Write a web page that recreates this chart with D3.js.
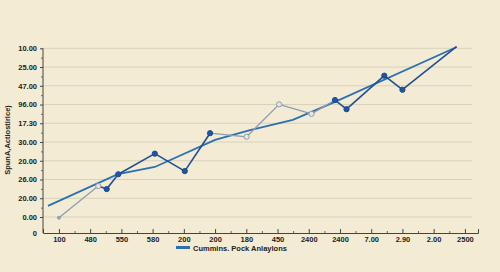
<!DOCTYPE html>
<html lang="en">
<head>
  <meta charset="utf-8">
  <script src="https://d3js.org/d3.v7.min.js"></script>
  <style>
    body { margin: 0; background: #f3ebd4; }
    svg text { font-family: "Liberation Sans", Arial, sans-serif; font-weight: bold; fill: #222; }
  </style>
</head>
<body>
<div id="chart"></div>
<script>

// tick labels
var xLabels = ["100", "480", "550", "580", "200", "200", "180", "450", "2400", "2400", "7.00", "2.90", "2.00", "2500"]
var yLabels = ["0.00", "20.00", "26.00", "20.00", "30.00", "17.30", "96.00", "47.00", "25.00", "10.00"]

// trend line (x = category position, y = grid units)
var trendX = [-0.35, 1.89, 3.07, 5.0, 6.12, 7.49, 8.84, 12.74]
var trendY = [0.59, 2.29, 2.67, 4.11, 4.64, 5.18, 6.14, 9.07]

// measured series, points in order
var pointX = [0.0, 1.26, 1.53, 1.90, 3.07, 4.03, 4.84, 6.01, 7.05, 8.09, 8.84, 9.21, 10.42, 11.0, 12.73]
var pointY = [-0.04, 1.65, 1.49, 2.28, 3.38, 2.45, 4.47, 4.28, 6.01, 5.50, 6.24, 5.75, 7.54, 6.79, 9.09]
// estimated (light) points
var estimated = [1, 1, 0, 0, 0, 0, 0, 1, 1, 1, 0, 0, 0, 0, 0]
// light segments (index of the segment's first point)
var lightSegments = [0, 6, 7, 8, 9]

var W = 500, H = 272
var svg = d3.select("#chart").append("svg")
  .attr("width", W).attr("height", H)

var x = d3.scaleLinear().domain([-0.51, 13.42]).range([43, 478])
var y = d3.scaleLinear().domain([0, 9]).range([217, 48.3])
var yBottom = 233

// grid lines
svg.append("g").selectAll("line")
  .data(d3.range(yLabels.length))
  .enter().append("line")
    .attr("x1", 43).attr("x2", 472)
    .attr("y1", function(d) { return y(d) }).attr("y2", function(d) { return y(d) })
    .style("stroke", "#d9d2bb").style("stroke-width", 1)

// y axis
var yAxis = svg.append("g")
  .attr("transform", "translate(43,0)")
  .call(d3.axisLeft(y).tickValues(d3.range(yLabels.length))
    .tickFormat(function(d) { return yLabels[d] }).tickSize(3).tickSizeOuter(0))
yAxis.select(".domain").attr("d", "M0," + y(9) + "V" + yBottom)
yAxis.selectAll("text").style("font-size", "7.5px")
yAxis.selectAll("line, path").style("stroke", "#444")

svg.append("g")
  .attr("transform", "translate(43,0)")
  .call(d3.axisLeft(y).tickValues(d3.range(0, 9).map(function(d) { return d + 0.5 }))
    .tickFormat("").tickSize(2).tickSizeOuter(0))
  .call(function(g) { g.select(".domain").remove() })
  .selectAll("line").style("stroke", "#666")

svg.append("text")
  .attr("x", 37).attr("y", yBottom + 3)
  .attr("text-anchor", "end")
  .style("font-size", "7.5px")
  .text("0")

// x axis
var xAxis = svg.append("g")
  .attr("transform", "translate(0," + yBottom + ")")
  .call(d3.axisBottom(x).tickValues(d3.range(xLabels.length))
    .tickFormat(function(d) { return xLabels[d] }).tickSizeInner(-4).tickSizeOuter(-4).tickPadding(4))
xAxis.selectAll("text").style("font-size", "7.5px")
xAxis.selectAll("line, path").style("stroke", "#444")

svg.append("g")
  .attr("transform", "translate(0," + yBottom + ")")
  .call(d3.axisBottom(x).tickValues(d3.range(0, 13).map(function(d) { return d + 0.5 }))
    .tickFormat("").tickSize(-2).tickSizeOuter(0))
  .call(function(g) { g.select(".domain").remove() })
  .selectAll("line").style("stroke", "#666")

// y title
svg.append("text")
  .attr("transform", "translate(10,140) rotate(-90)")
  .attr("text-anchor", "middle")
  .style("font-size", "7.5px")
  .text("SpunA,Actiostirice)")

var line = d3.line()
  .x(function(d) { return x(d[0]) })
  .y(function(d) { return y(d[1]) })

// trend
svg.append("path")
  .datum(d3.zip(trendX, trendY))
  .attr("d", line)
  .style("fill", "none").style("stroke", "#2c6fb2").style("stroke-width", 1.8)

// series segments
var pts = d3.zip(pointX, pointY, estimated)
for (var i = 0; i < pts.length - 1; i++) {
  var light = lightSegments.indexOf(i) >= 0
  svg.append("path")
    .datum([pts[i], pts[i + 1]])
    .attr("d", line)
    .style("fill", "none")
    .style("stroke", light ? "#8f9db0" : "#1e4e94")
    .style("stroke-width", light ? 1.3 : 1.6)
}

// markers
svg.append("g").selectAll("circle")
  .data(pts.slice(0, pts.length - 1))
  .enter().append("circle")
    .attr("cx", function(d) { return x(d[0]) })
    .attr("cy", function(d) { return y(d[1]) })
    .attr("r", function(d, i) { return i == 0 ? 1.5 : 2.6 })
    .style("fill", function(d, i) { return i == 0 ? "#9aa6b6" : (d[2] ? "#e9e6dc" : "#1e56a6") })
    .style("stroke", function(d) { return d[2] ? "#8f9db0" : "#1a4a8e" })
    .style("stroke-width", 1)

// legend
svg.append("rect")
  .attr("x", 176).attr("y", 246).attr("width", 14).attr("height", 3)
  .style("fill", "#2c6fb2")
svg.append("text")
  .attr("x", 193).attr("y", 250.5)
  .style("font-size", "7.5px")
  .text("Cummins. Pock Anlaylons")

</script>
</body>
</html>
